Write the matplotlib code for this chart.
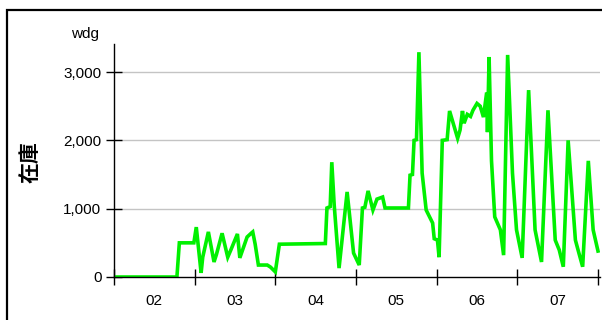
import numpy as np
import matplotlib
matplotlib.use("Agg")
import matplotlib.pyplot as plt
from matplotlib.patches import Rectangle

# month position (0 = start of Feb, equal width per month) and stock level
month_pos = [0.00, 0.78, 0.81, 0.99, 1.02, 1.08, 1.10, 1.17, 1.24, 1.27,
             1.34, 1.41, 1.45, 1.53, 1.56, 1.65, 1.70, 1.72, 1.75, 1.79,
             1.90, 1.94, 2.00, 2.05, 2.62, 2.64, 2.68, 2.70, 2.73, 2.79,
             2.89, 2.97, 3.04, 3.08, 3.11, 3.15, 3.21, 3.26, 3.33, 3.36,
             3.65, 3.67, 3.70, 3.72, 3.75, 3.78, 3.82, 3.87, 3.95, 3.97,
             4.01, 4.03, 4.07, 4.13, 4.16, 4.26, 4.29, 4.32, 4.34, 4.38,
             4.42, 4.45, 4.50, 4.54, 4.58, 4.62, 4.63, 4.65, 4.68, 4.72,
             4.79, 4.83, 4.88, 4.94, 4.99, 5.06, 5.14, 5.22, 5.30, 5.38,
             5.47, 5.52, 5.57, 5.63, 5.72, 5.76, 5.81, 5.88, 5.94, 6.00]
stock = [0, 0, 500, 500, 730, 60, 290, 660, 220, 330,
         640, 290, 400, 630, 280, 585, 640, 660, 480, 175,
         175, 145, 75, 480, 490, 1010, 1030, 1680, 1050, 130,
         1245, 350, 175, 1010, 1020, 1260, 980, 1140, 1170, 1010,
         1010, 1490, 1500, 2000, 2010, 3290, 1520, 980, 790, 560,
         540, 290, 2000, 2010, 2430, 2030, 2150, 2430, 2250, 2380,
         2350, 2440, 2540, 2500, 2340, 2700, 2120, 3220, 1700, 880,
         690, 320, 3250, 1520, 690, 280, 2735, 690, 220, 2440,
         540, 395, 150, 2000, 540, 365, 150, 1700, 690, 380]
month_labels = ["02", "03", "04", "05", "06", "07"]
y_ticks = [0, 1000, 2000, 3000]

plt.rcParams['font.family'] = ['Liberation Sans', 'DejaVu Sans']

fig = plt.figure(figsize=(6.02, 3.2), dpi=100)
ax = fig.add_axes([114 / 602, 43 / 320, 486 / 602, 233 / 320])

# outer frame (only top and left edges fall inside the picture)
fig.add_artist(Rectangle((7 / 602, -0.2), 1.2, 1.2 - 10 / 320,
                         transform=fig.transFigure, fill=False,
                         edgecolor='black', linewidth=1.6))

ax.plot(month_pos, stock, color='#00f000', linewidth=2.6, solid_joinstyle='miter')

ax.set_xlim(0, 6.025)
ax.set_ylim(0, 3410)

for v in y_ticks[1:]:
    ax.axhline(v, color='#c4c4c4', linewidth=1.0, zorder=0)

ax.set_yticks(y_ticks)
ax.set_yticklabels(["{:,}".format(v) for v in y_ticks])
ax.set_xticks(np.arange(len(month_labels) + 1))
ax.set_xticklabels([])
ax.set_xticks(np.arange(len(month_labels)) + 0.5, minor=True)
ax.set_xticklabels(month_labels, minor=True)

ax.tick_params(axis='y', direction='inout', length=12, width=1.0, labelsize=11, pad=3)
ax.tick_params(axis='x', which='major', direction='inout', length=12, width=1.0)
ax.tick_params(axis='x', which='minor', length=0, labelsize=11, pad=12)

for s in ['top', 'right']:
    ax.spines[s].set_visible(False)
ax.spines['left'].set_linewidth(1.0)
ax.spines['bottom'].set_linewidth(1.0)

fig.text(99 / 602, 1 - 34 / 320, "wdg", ha='right', va='center', fontsize=11)
fig.text(30 / 602, 1 - 162 / 320, "在庫", rotation=90, ha='center', va='center',
         fontsize=15, fontweight='bold', family=['Noto Sans CJK JP', 'DejaVu Sans'])

fig.savefig("out.png", dpi=100)
